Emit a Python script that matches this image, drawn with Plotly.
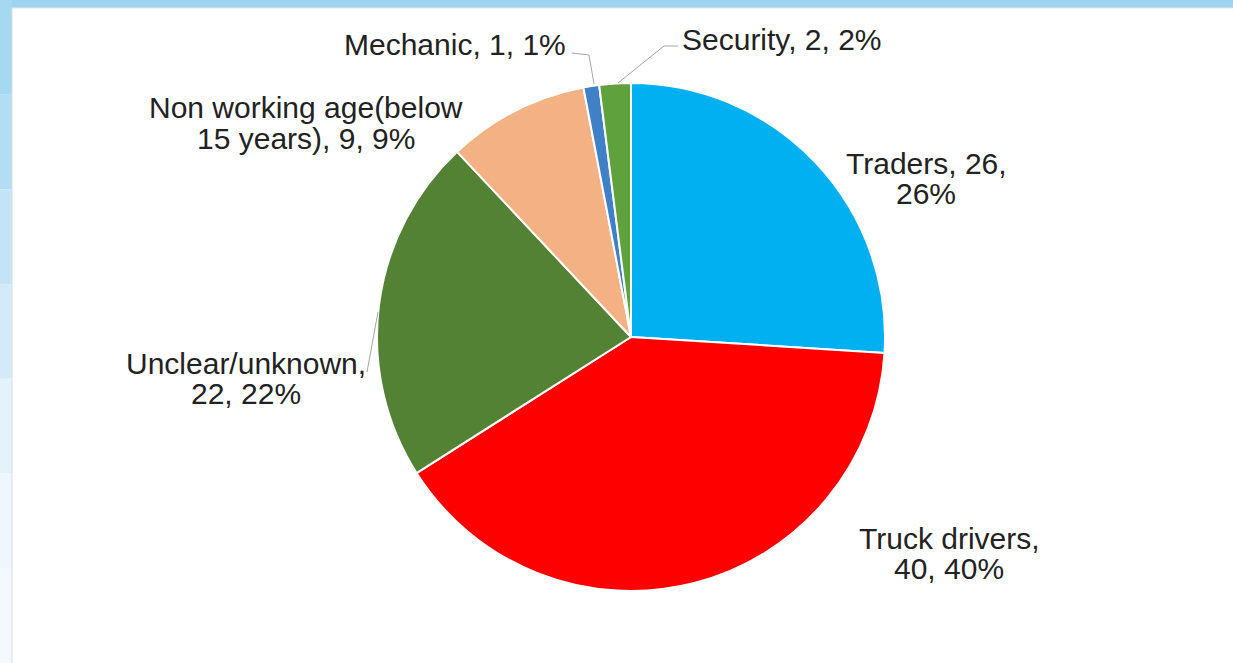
import plotly.graph_objects as go

# ---- data ----
categories = ["Traders", "Truck drivers", "Unclear/unknown",
              "Non working age(below 15 years)", "Mechanic", "Security"]
counts = [26, 40, 22, 9, 1, 2]
percents = [26, 40, 22, 9, 1, 2]
colors = ["#00B0F0", "#FF0000", "#548235", "#F4B183", "#3F80C6", "#5FA13D"]

W, H = 1233, 663

def px(x):
    return x / W

def py(y):
    return 1 - y / H

# pie geometry (pixels)
cx, cy, r = 631, 337, 254

fig = go.Figure(go.Pie(
    labels=categories,
    values=counts,
    sort=False,
    direction="clockwise",
    rotation=0,
    marker=dict(colors=colors, line=dict(color="white", width=2)),
    textinfo="none",
    hoverinfo="label+value+percent",
    showlegend=False,
    domain=dict(x=[px(cx - r), px(cx + r)], y=[py(cy + r), py(cy - r)]),
))

lines = {
    0: [f"{categories[0]}, {counts[0]},", f"{percents[0]}%"],
    1: [f"{categories[1]},", f"{counts[1]}, {percents[1]}%"],
    2: [f"{categories[2]},", f"{counts[2]}, {percents[2]}%"],
    3: ["Non working age(below", f"15 years), {counts[3]}, {percents[3]}%"],
    4: [f"{categories[4]}, {counts[4]}, {percents[4]}%"],
    5: [f"{categories[5]}, {counts[5]}, {percents[5]}%"],
}
# (x, first line center y, xanchor)
label_pos = {
    0: (926, 163, "center"),
    1: (949, 538, "center"),
    2: (246, 363, "center"),
    3: (306, 108, "center"),
    4: (568, 45, "right"),
    5: (680, 39, "left"),
}
line_gap = 30
FONT = dict(family="Liberation Sans, Arial, sans-serif", size=30, color="#222222")

annotations = []
for i, ls in lines.items():
    x, y0, xa = label_pos[i]
    for k, t in enumerate(ls):
        annotations.append(dict(
            x=px(x), y=py(y0 + k * line_gap), xref="paper", yref="paper",
            text=t, showarrow=False, xanchor=xa, yanchor="middle", font=FONT))

shapes = []
# slide background strips
shapes.append(dict(type="rect", xref="paper", yref="paper", x0=0, x1=1,
                   y0=py(8), y1=1, fillcolor="#9ed4f0", line=dict(width=0), layer="below"))
left_cols = ["#a5d8f1", "#b2ddf3", "#c2e4f6", "#d3ebf8", "#e3f2fb", "#eef7fc", "#f4f9fd"]
seg = H / len(left_cols)
for j, c in enumerate(left_cols):
    shapes.append(dict(type="rect", xref="paper", yref="paper", x0=0, x1=px(12),
                       y0=py((j + 1) * seg), y1=py(j * seg), fillcolor=c,
                       line=dict(width=0), layer="below"))
shapes.append(dict(type="line", xref="paper", yref="paper", x0=px(12), x1=px(12),
                   y0=0, y1=py(8), line=dict(color="#dddddd", width=1), layer="below"))
shapes.append(dict(type="line", xref="paper", yref="paper", x0=px(12), x1=1,
                   y0=py(8), y1=py(8), line=dict(color="#e6e6e6", width=1), layer="below"))

# leader lines
lc = dict(color="#a6a6a6", width=1)
shapes.append(dict(type="path", xref="paper", yref="paper",
                   path=f"M {px(572)} {py(53)} L {px(589)} {py(55)} L {px(594)} {py(84)}",
                   line=lc))
shapes.append(dict(type="path", xref="paper", yref="paper",
                   path=f"M {px(678)} {py(46)} L {px(664)} {py(46)} L {px(618)} {py(83)}",
                   line=lc))
shapes.append(dict(type="line", xref="paper", yref="paper",
                   x0=px(367), y0=py(372), x1=px(378), y1=py(312), line=lc))

fig.update_layout(
    width=W, height=H,
    margin=dict(l=0, r=0, t=0, b=0),
    paper_bgcolor="white",
    plot_bgcolor="white",
    annotations=annotations,
    shapes=shapes,
)

fig.write_html("out.html",
               config={"displayModeBar": False},
               post_script="document.body.style.margin='0px';document.body.style.overflow='hidden';")
